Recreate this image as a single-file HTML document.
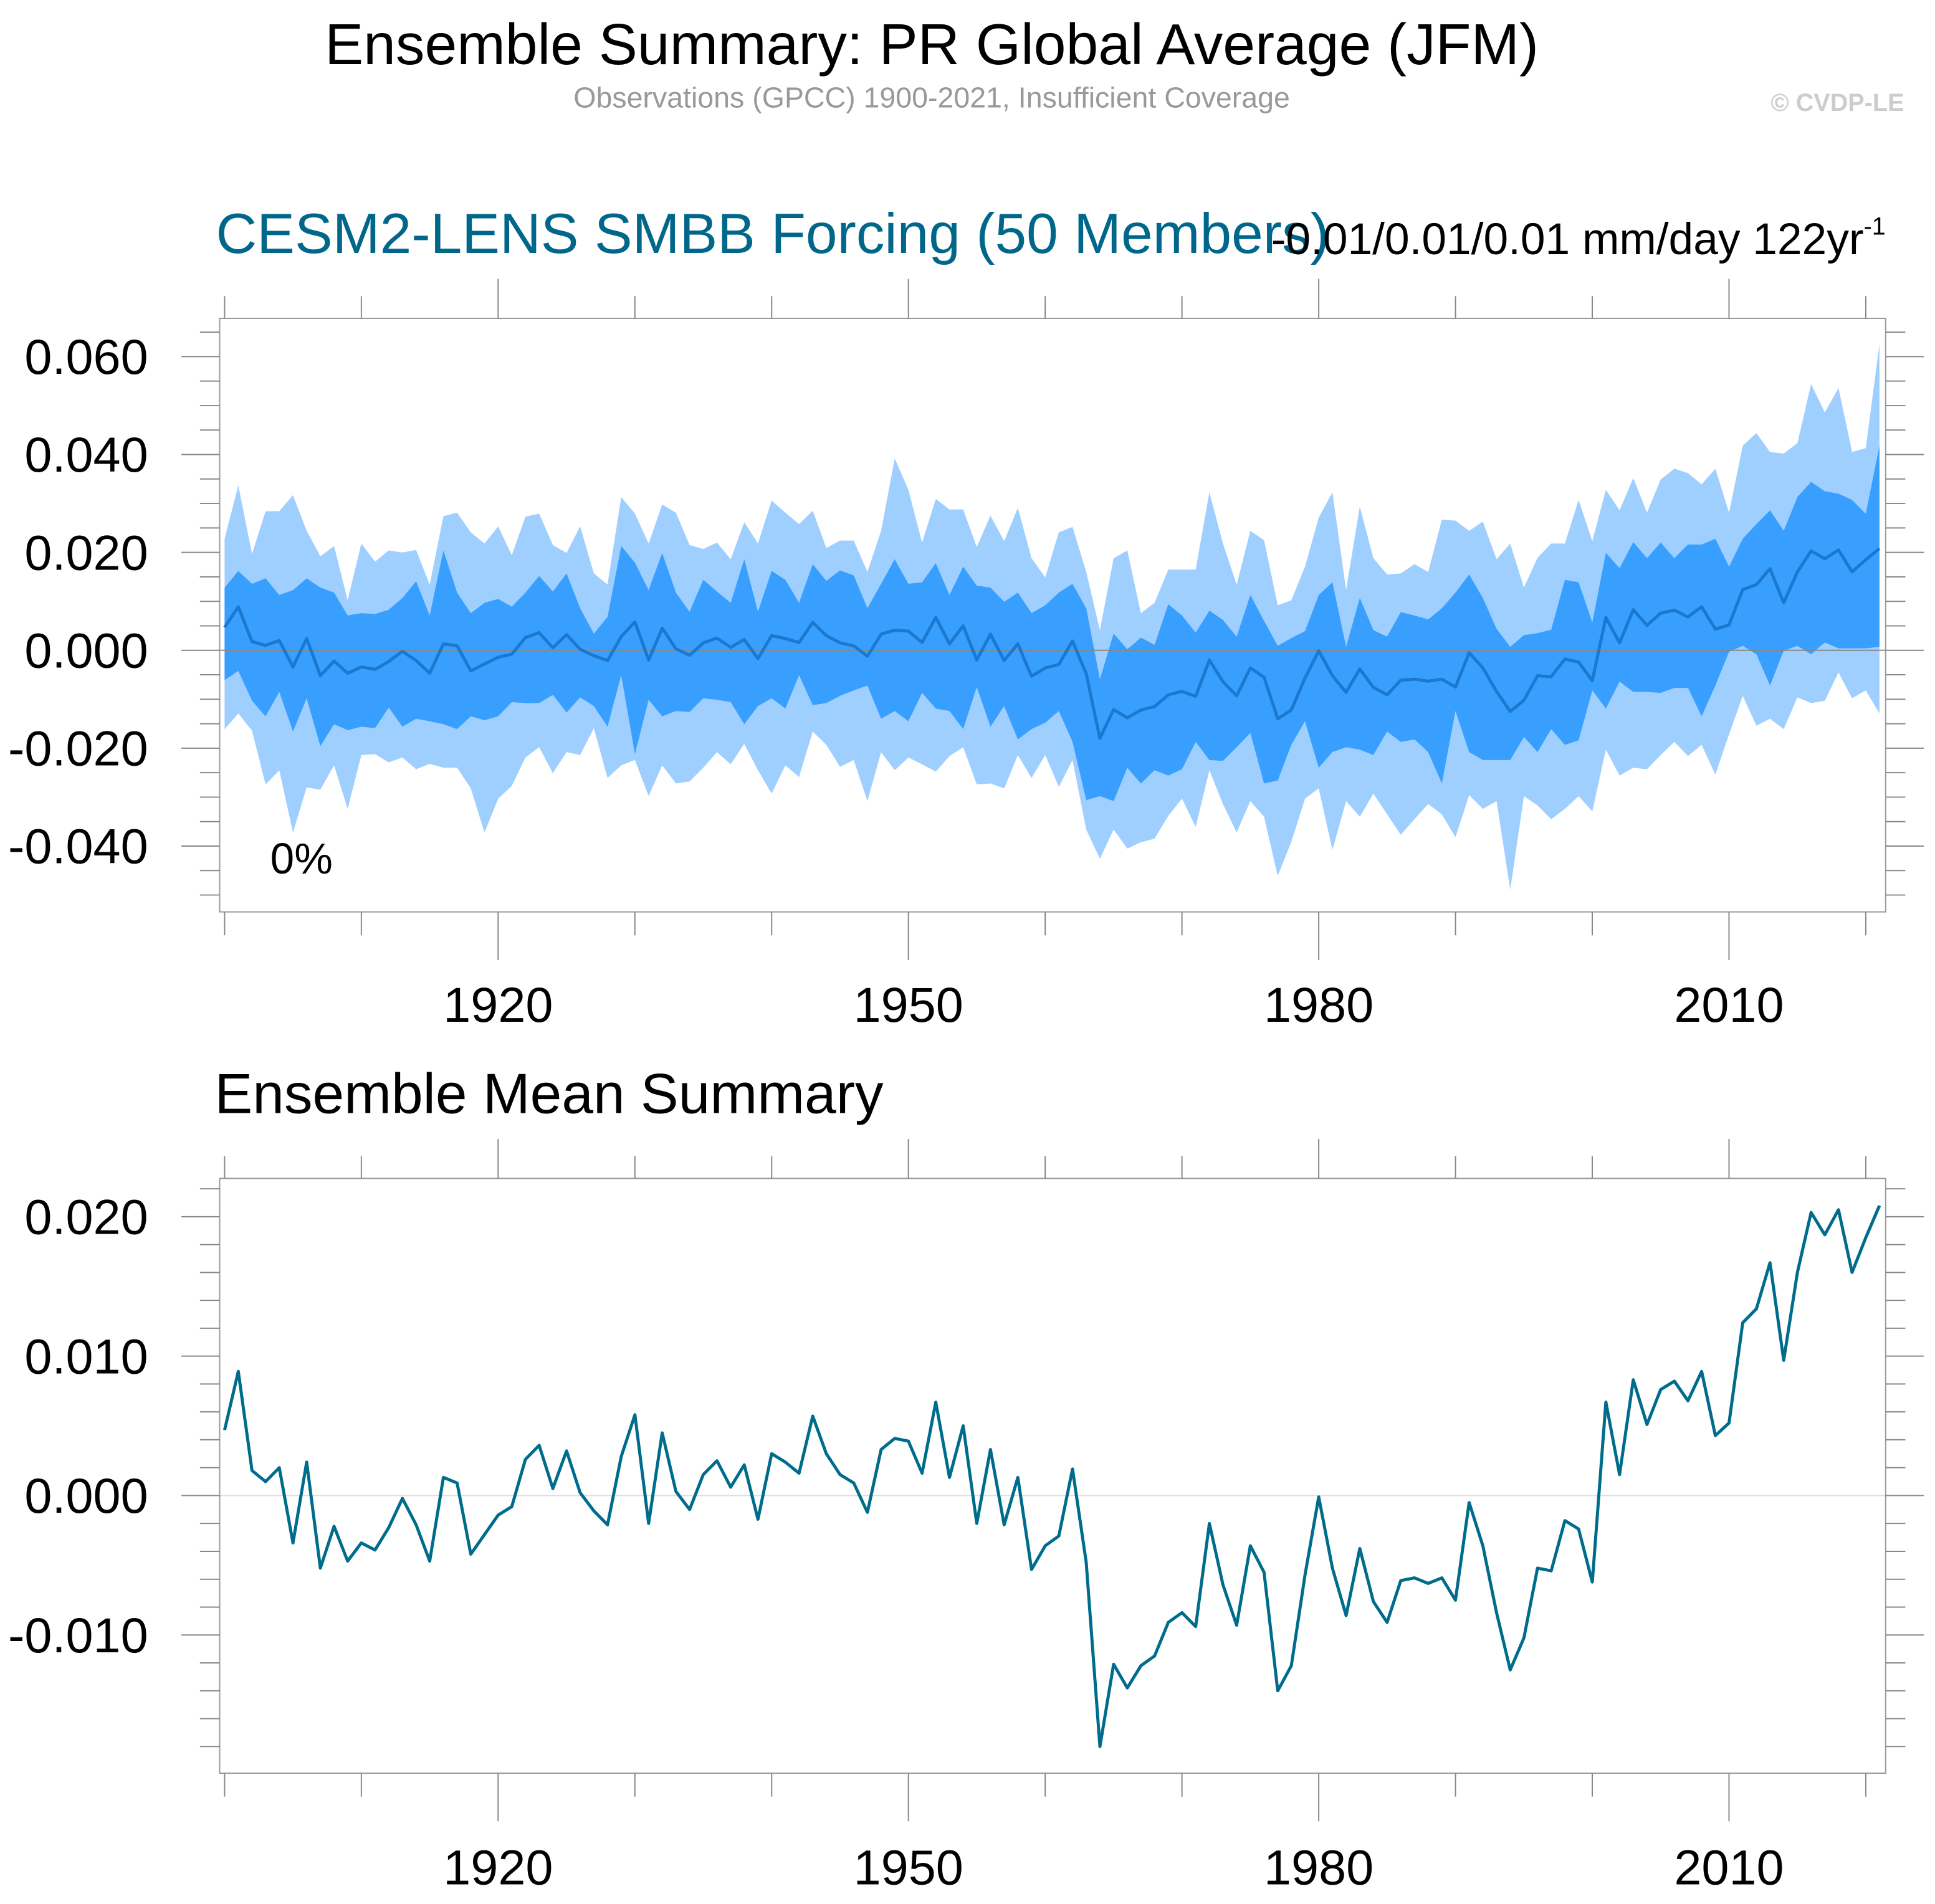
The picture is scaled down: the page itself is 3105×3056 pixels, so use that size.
<!DOCTYPE html>
<html><head><meta charset="utf-8"><style>
html,body{margin:0;padding:0;background:#fff;}
svg{display:block;font-family:"Liberation Sans",sans-serif;}
</style></head><body>
<svg id="chart" width="3105" height="3056" viewBox="0 0 1568 1543" preserveAspectRatio="none" xmlns="http://www.w3.org/2000/svg">
<rect x="0" y="0" width="1568" height="1543" fill="#fff"/>
<text x="755" y="52" font-size="47" text-anchor="middle">Ensemble Summary: PR Global Average (JFM)</text>
<text x="755" y="87" font-size="23.5" fill="#999" text-anchor="middle">Observations (GPCC) 1900-2021, Insufficient Coverage</text>
<text x="1543" y="90" font-size="20" font-weight="bold" fill="#ccc" text-anchor="end">© CVDP-LE</text>
<text x="175" y="205" font-size="46" fill="#00678a">CESM2-LENS SMBB Forcing (50 Members)</text>
<text x="1528" y="206" font-size="36" text-anchor="end">-0.01/0.01/0.01 mm/day 122yr<tspan dy="-16" font-size="20">-1</tspan></text>
<text x="174" y="902" font-size="46">Ensemble Mean Summary</text>
<g id="top"></g>
<g id="bot"></g>
</svg>
<script>
const years=[];for(let y=1900;y<=2021;y++)years.push(y);
const meanVals=[0.0047,0.0089,0.0018,0.0010,0.0020,-0.0034,0.0024,-0.0052,-0.0022,-0.0047,-0.0034,-0.0039,-0.0023,-0.0002,-0.0021,-0.0047,0.0013,0.0009,-0.0042,-0.0028,-0.0014,-0.0008,0.0026,0.0036,0.0005,0.0032,0.0002,-0.0011,-0.0021,0.0028,0.0058,-0.0020,0.0045,0.0003,-0.0010,0.0015,0.0025,0.0006,0.0022,-0.0017,0.0030,0.0024,0.0016,0.0057,0.0030,0.0015,0.0009,-0.0012,0.0033,0.0041,0.0039,0.0016,0.0067,0.0013,0.0050,-0.0020,0.0033,-0.0021,0.0013,-0.0053,-0.0036,-0.0029,0.0019,-0.0048,-0.0180,-0.0121,-0.0138,-0.0122,-0.0115,-0.0091,-0.0084,-0.0094,-0.0020,-0.0064,-0.0093,-0.0036,-0.0055,-0.0140,-0.0122,-0.0057,-0.0001,-0.0052,-0.0086,-0.0038,-0.0076,-0.0091,-0.0061,-0.0059,-0.0063,-0.0059,-0.0075,-0.0005,-0.0036,-0.0084,-0.0125,-0.0102,-0.0052,-0.0054,-0.0018,-0.0024,-0.0062,0.0067,0.0015,0.0083,0.0051,0.0076,0.0082,0.0068,0.0089,0.0043,0.0052,0.0124,0.0134,0.0167,0.0097,0.0160,0.0203,0.0187,0.0205,0.0160,0.0185,0.0208];
const maxVals=[.0228,.0337,.0197,.0284,.0284,.0317,.0244,.0192,.0213,.0102,.0218,.0181,.0204,.0200,.0205,.0134,.0274,.0281,.0241,.0218,.0253,.0194,.0273,.0279,.0215,.0199,.0253,.0157,.0134,.0313,.0279,.0218,.0298,.0281,.0215,.0207,.0220,.0186,.0262,.0218,.0306,.0281,.0258,.0285,.0209,.0224,.0224,.0160,.0244,.0392,.0328,.0220,.0309,.0288,.0288,.0211,.0275,.0223,.0291,.0188,.0149,.0241,.0252,.0160,.0041,.0188,.0204,.0076,.0097,.0165,.0165,.0165,.0323,.0218,.0134,.0244,.0225,.0092,.0102,.0171,.0271,.0323,.0123,.0294,.0188,.0155,.0157,.0176,.0160,.0267,.0265,.0244,.0263,.0186,.0218,.0128,.0189,.0218,.0218,.0307,.0223,.0328,.0286,.0352,.0281,.0349,.0371,.0362,.0339,.0371,.0281,.0418,.0444,.0405,.0402,.0423,.0544,.0486,.0536,.0405,.0413,.0626];
const hiVals=[.0128,.0162,.0136,.0147,.0113,.0123,.0147,.0128,.0118,.0071,.0076,.0074,.0083,.0107,.0141,.0071,.0204,.0118,.0076,.0097,.0105,.0089,.0118,.0152,.0120,.0157,.0086,.0034,.0068,.0213,.0179,.0123,.0199,.0118,.0079,.0144,.0120,.0097,.0186,.0079,.0162,.0144,.0097,.0176,.0142,.0163,.0153,.0086,.0136,.0186,.0136,.0139,.0178,.0113,.0171,.0132,.0128,.0099,.0118,.0076,.0092,.0118,.0136,.0086,-.0059,.0034,.0002,.0026,.0011,.0094,.0071,.0036,.0081,.0062,.0028,.0113,.0060,.0009,.0025,.0039,.0113,.0139,.0007,.0107,.0041,.0028,.0078,.0071,.0063,.0086,.0118,.0155,.0107,.0044,.0007,.0031,.0035,.0042,.0144,.0139,.0057,.0199,.0168,.0221,.0188,.0220,.0188,.0216,.0216,.0228,.0171,.0228,.0258,.0286,.0244,.0313,.0344,.0325,.0320,.0307,.0279,.0418];
const loVals=[-.0061,-.0042,-.0103,-.0135,-.0085,-.0166,-.0098,-.0196,-.0151,-.0163,-.0156,-.0159,-.0117,-.0156,-.0140,-.0145,-.0151,-.0161,-.0135,-.0143,-.0135,-.0106,-.0108,-.0108,-.0091,-.0127,-.0096,-.0114,-.0156,-.0051,-.0212,-.0101,-.0135,-.0124,-.0126,-.0098,-.0101,-.0106,-.0151,-.0114,-.0098,-.0119,-.0051,-.0112,-.0108,-.0093,-.0082,-.0072,-.0140,-.0124,-.0145,-.0087,-.0119,-.0124,-.0161,-.0075,-.0156,-.0114,-.0182,-.0161,-.0148,-.0124,-.0187,-.0306,-.0298,-.0308,-.0240,-.0272,-.0245,-.0256,-.0243,-.0187,-.0224,-.0226,-.0198,-.0169,-.0272,-.0266,-.0193,-.0145,-.0240,-.0208,-.0198,-.0203,-.0214,-.0166,-.0187,-.0182,-.0208,-.0272,-.0124,-.0208,-.0224,-.0224,-.0224,-.0177,-.0208,-.0161,-.0193,-.0184,-.0082,-.0119,-.0064,-.0085,-.0085,-.0087,-.0077,-.0077,-.0135,-.0072,-.0003,.0009,-.0008,-.0072,-.0001,.0009,-.0008,.0016,.0004,.0004,.0004,.0007];
const minVals=[-.0161,-.0129,-.0164,-.0274,-.0245,-.0372,-.0280,-.0285,-.0235,-.0324,-.0214,-.0212,-.0229,-.0219,-.0243,-.0232,-.0240,-.0240,-.0282,-.0372,-.0303,-.0277,-.0219,-.0198,-.0251,-.0208,-.0214,-.0159,-.0261,-.0235,-.0224,-.0298,-.0235,-.0272,-.0268,-.0240,-.0208,-.0233,-.0191,-.0245,-.0293,-.0235,-.0259,-.0166,-.0193,-.0238,-.0224,-.0308,-.0208,-.0245,-.0219,-.0233,-.0248,-.0216,-.0198,-.0274,-.0272,-.0282,-.0214,-.0261,-.0214,-.0279,-.0224,-.0366,-.0426,-.0366,-.0405,-.0392,-.0385,-.0338,-.0303,-.0361,-.0245,-.0314,-.0372,-.0308,-.0340,-.0461,-.0391,-.0303,-.0282,-.0408,-.0308,-.0340,-.0293,-.0335,-.0377,-.0345,-.0314,-.0335,-.0382,-.0296,-.0324,-.0308,-.0489,-.0298,-.0317,-.0345,-.0324,-.0298,-.0329,-.0203,-.0256,-.0240,-.0243,-.0214,-.0187,-.0216,-.0193,-.0254,-.0172,-.0093,-.0154,-.0140,-.0161,-.0096,-.0108,-.0103,-.0045,-.0098,-.0082,-.0129];
const xTickYears=[1920,1950,1980,2010];
const topYTicks=[0.060,0.040,0.020,0.000,-0.020,-0.040];
const topYTickLabels=["0.060","0.040","0.020","0.000","-0.020","-0.040"];
const botYTicks=[0.020,0.010,0.000,-0.010];
const botYTickLabels=["0.020","0.010","0.000","-0.010"];

const NS="http://www.w3.org/2000/svg";
function mk(parent,tag,attrs){const e=document.createElementNS(NS,tag);for(const k in attrs)e.setAttribute(k,attrs[k]);parent.appendChild(e);return e;}
const L=178,R=1528;
const xS=y=>182+(y-1900)*(1523-182)/121;

function axes(g,T,B,yS,vmin,vmax,minorStep,yTicks,yLabels,labelY){
  const fr=mk(g,'rect',{x:L,y:T,width:R-L,height:B-T,fill:'none',stroke:'#999','stroke-width':1});
  
  
  for(let y=1900;y<=2020;y+=10){
    const major=xTickYears.includes(y);
    const x=xS(y);
    const t1=mk(g,'line',{x1:x,x2:x,y1:B,y2:B+(major?39:19),stroke:'#888','stroke-width':1});
    
    
    mk(g,'line',{x1:x,x2:x,y1:T,y2:T-(major?32:18),stroke:'#888','stroke-width':1});
  }
  xTickYears.forEach(y=>{
    const t=mk(g,'text',{x:xS(y),y:labelY,'font-size':40,'text-anchor':'middle'});
    t.textContent=y;
    
    
  });
  const n0=Math.ceil(vmin/minorStep-1e-6),n1=Math.floor(vmax/minorStep+1e-6);
  for(let n=n0;n<=n1;n++){
    const v=n*minorStep,yy=yS(v);
    const major=yTicks.some(t=>Math.abs(t-v)<1e-9);
    const len=major?31:16;
    const tk=mk(g,'line',{x1:L-len,x2:L,y1:yy,y2:yy,stroke:'#888','stroke-width':1});
    
    
    mk(g,'line',{x1:R,x2:R+len,y1:yy,y2:yy,stroke:'#888','stroke-width':1});
  }
  yTicks.forEach((v,i)=>{
    const t=mk(g,'text',{x:120,y:yS(v)+14,'font-size':40,'text-anchor':'end'});
    t.textContent=yLabels[i];
    
    
  });
}
function linePts(vals,yS){return vals.map((v,i)=>xS(years[i]).toFixed(1)+','+yS(v).toFixed(1)).join(' ');}
function bandPts(up,lo,yS){
  const a=up.map((v,i)=>xS(years[i]).toFixed(1)+','+yS(v).toFixed(1));
  const b=lo.map((v,i)=>xS(years[i]).toFixed(1)+','+yS(v).toFixed(1)).reverse();
  return a.concat(b).join(' ');
}
const gt=document.getElementById('top');
const yT=v=>527-v*(527-289)/0.06;
const ob=mk(gt,'polygon',{points:bandPts(maxVals,minVals,yT),fill:'#9fcfff'});


const ib=mk(gt,'polygon',{points:bandPts(hiVals,loVals,yT),fill:'#389fff'});


const z1=mk(gt,'line',{x1:L,x2:R,y1:yT(0),y2:yT(0),stroke:'#888','stroke-width':1});


const ml=mk(gt,'polyline',{points:linePts(meanVals,yT),fill:'none',stroke:'#1a78d0','stroke-width':2.5,'stroke-linejoin':'round'});


axes(gt,258,739,yT,-0.0535,0.0678,0.005,topYTicks,topYTickLabels,828);
const pct=mk(gt,'text',{x:219,y:708,'font-size':35});
pct.textContent='0%';


const gb=document.getElementById('bot');
const yB=v=>1212-v*(1212-986)/0.02;
const z2=mk(gb,'line',{x1:L,x2:R,y1:yB(0),y2:yB(0),stroke:'#ddd','stroke-width':1});


const ml2=mk(gb,'polyline',{points:linePts(meanVals,yB),fill:'none',stroke:'#006c8c','stroke-width':2.5,'stroke-linejoin':'round'});


axes(gb,955,1437,yB,-0.0199,0.0227,0.002,botYTicks,botYTickLabels,1527);
</script>
</body></html>
